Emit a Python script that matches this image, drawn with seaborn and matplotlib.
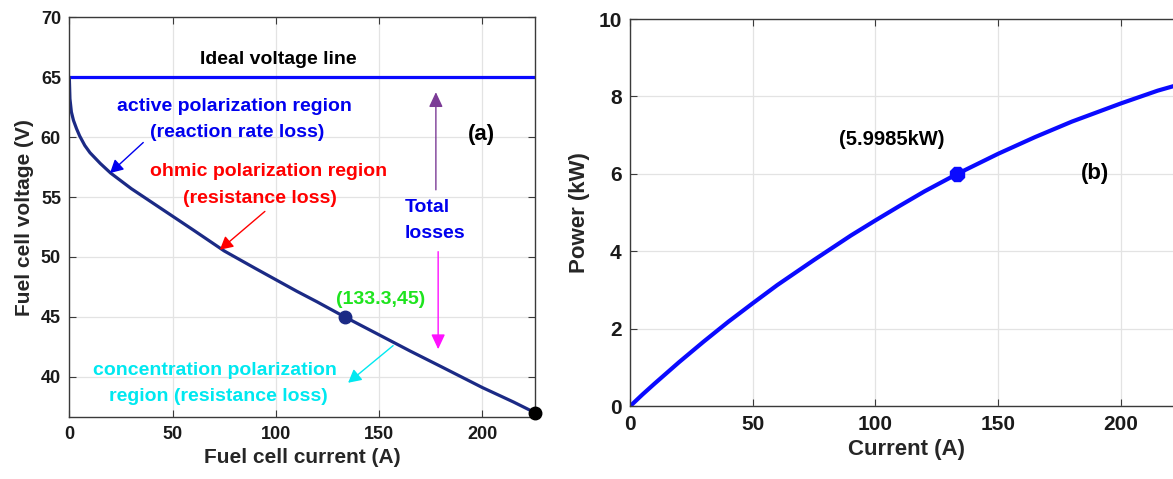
import numpy as np
import pandas as pd
import seaborn as sns
import matplotlib
matplotlib.use("Agg")
import matplotlib.pyplot as plt

# ---- data ----
current_a = [0, 0.3, 1.0, 2.0, 3.5, 5, 7.5, 10, 15, 20, 30, 40, 50, 60, 75, 90,
             100, 110, 120, 133.3, 150, 165, 180, 200, 215, 225.5]
voltage_v = [65.0, 63.2, 62.1, 61.4, 60.7, 60.1, 59.3, 58.7, 57.8, 57.0, 55.7,
             54.55, 53.4, 52.25, 50.5, 49.05, 48.1, 47.15, 46.25, 45.0, 43.5,
             42.15, 40.85, 39.1, 37.9, 37.0]
ideal_i = [0, 225.5]
ideal_v = [65, 65]
op_point = (133.3, 45)
end_point = (225.5, 37.0)

power_i = [0, 5, 10, 20, 30, 40, 50, 60, 75, 90, 100, 110, 120, 133.3, 150,
           165, 180, 200, 215, 225.5]
power_kw = [0, 0.30, 0.585, 1.14, 1.67, 2.18, 2.66, 3.13, 3.78, 4.41, 4.80,
            5.18, 5.55, 6.0, 6.52, 6.95, 7.35, 7.82, 8.15, 8.34]
power_point = (133.3, 6.0)

left_xticks = [0, 50, 100, 150, 200]
left_yticks = [40, 45, 50, 55, 60, 65, 70]
right_xticks = [0, 50, 100, 150, 200]
right_yticks = [0, 2, 4, 6, 8, 10]

sns.set_theme(style="whitegrid")
plt.rcParams['font.family'] = ['Liberation Sans', 'DejaVu Sans']
plt.rcParams['font.weight'] = 'bold'

fig = plt.figure(figsize=(11.73, 4.79), dpi=100)
axL = fig.add_axes([0.0591, 0.1284, 0.397, 0.8355])
axR = fig.add_axes([0.5371, 0.1518, 0.4718, 0.8085])

dfv = pd.DataFrame({"I": current_a, "V": voltage_v})
dfi = pd.DataFrame({"I": ideal_i, "V": ideal_v})
dfp = pd.DataFrame({"I": power_i, "P": power_kw})

navy = "#1b2a85"
blue = "#0a0aff"

# ---- left panel ----
sns.lineplot(data=dfi, x="I", y="V", ax=axL, color=blue, lw=2.3, sort=False)
sns.lineplot(data=dfv, x="I", y="V", ax=axL, color=navy, lw=2.3, sort=False)
axL.plot(*op_point, 'o', color=navy, ms=9, zorder=5)
axL.plot(*end_point, 'o', color='black', ms=9, zorder=5, clip_on=False)

axL.set_xlim(0, 225.5)
axL.set_ylim(36.6, 70)
axL.set_xticks(left_xticks)
axL.set_yticks(left_yticks)
axL.set_xlabel("Fuel cell current (A)", fontsize=15, fontweight='bold', labelpad=4)
axL.set_ylabel("Fuel cell voltage (V)", fontsize=15, fontweight='bold', labelpad=5)

tk = dict(fontsize=14, fontweight='bold', ha='center', va='center')
axL.text(101, 66.5, "Ideal voltage line", color='black', **tk)
axL.text(80.1, 62.55, "active polarization region", color='#0000ee', **tk)
axL.text(81.2, 60.4, "(reaction rate loss)", color='#0000ee', **tk)
axL.text(96.7, 57.1, "ohmic polarization region", color='#ff0000', **tk)
axL.text(92.4, 54.9, "(resistance loss)", color='#ff0000', **tk)
axL.text(162.5, 54.1, "Total", color='#0000ee', fontsize=14, fontweight='bold', ha='left', va='center')
axL.text(162.5, 51.95, "losses", color='#0000ee', fontsize=14, fontweight='bold', ha='left', va='center')
axL.text(199.8, 60.25, "(a)", color='black', fontsize=16, fontweight='bold', ha='center', va='center')
axL.text(150.6, 46.45, "(133.3,45)", color='#1ee41e', **tk)
axL.text(70.3, 40.5, "concentration polarization", color='#00e8f0', **tk)
axL.text(72.3, 38.35, "region (resistance loss)", color='#00e8f0', **tk)

def arrow(ax, xy, xytext, color, lw=1.0, hw=9, hl=12):
    ax.annotate("", xy=xy, xytext=xytext,
                arrowprops=dict(arrowstyle=f"-|>,head_width={hw/20:.2f},head_length={hl/20:.2f}",
                                color=color, lw=lw, shrinkA=0, shrinkB=0))

arrow(axL, (19.7, 57.0), (35.8, 59.55), '#0000ee', hw=7, hl=13)
arrow(axL, (72.9, 50.6), (94.7, 53.8), '#ff0000', hw=7, hl=13)
arrow(axL, (135, 39.5), (156.8, 42.6), '#00e8f0', hw=7, hl=13)
arrow(axL, (177.5, 63.75), (177.5, 55.6), '#7b3b96', hw=7, hl=15)
arrow(axL, (178.6, 42.3), (178.6, 50.44), '#ff10ff', hw=7, hl=15)

# ---- right panel ----
sns.lineplot(data=dfp, x="I", y="P", ax=axR, color=blue, lw=3.0, sort=False)
axR.plot(*power_point, marker='8', color=blue, ms=11, zorder=5)
axR.set_xlim(0, 225.5)
axR.set_ylim(0, 10)
axR.set_xticks(right_xticks)
axR.set_yticks(right_yticks)
axR.set_xlabel("Current (A)", fontsize=16, fontweight='bold', labelpad=4)
axR.set_ylabel("Power (kW)", fontsize=16, fontweight='bold', labelpad=6)
axR.text(106.5, 6.9, "(5.9985kW)", color='black', fontsize=14.5, fontweight='bold', ha='center', va='center')
axR.text(189.4, 6.0, "(b)", color='black', fontsize=16, fontweight='bold', ha='center', va='center')

for ax, fs in ((axL, 13), (axR, 15)):
    ax.set_facecolor('white')
    ax.grid(True, color='#e3e3e3', lw=0.9)
    for s in ax.spines.values():
        s.set_visible(True)
        s.set_color('#3a3a3a')
        s.set_linewidth(1.0)
    ax.tick_params(direction='in', length=5, width=0.8, color='#3a3a3a',
                   top=True, right=True, bottom=True, left=True,
                   labelsize=fs, labelcolor='#1a1a1a', pad=6)
    for lab in ax.get_xticklabels() + ax.get_yticklabels():
        lab.set_fontweight('bold')

fig.savefig("out.png", dpi=100, facecolor='white')
